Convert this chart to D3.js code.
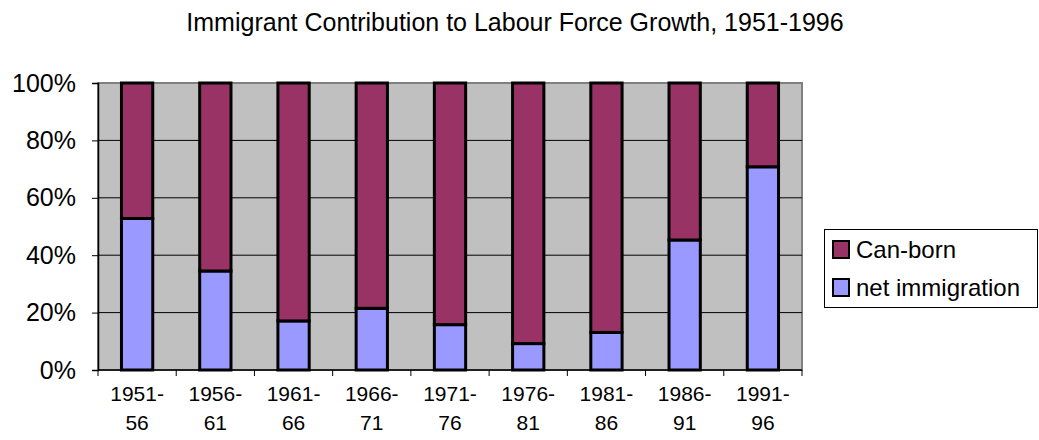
<!DOCTYPE html>
<html>
<head>
<meta charset="utf-8">
<title>Immigrant Contribution to Labour Force Growth</title>
<script src="https://d3js.org/d3.v7.min.js"></script>
<style>
  body { margin: 0; background: #fff; }
  svg text { font-family: Arial, "Liberation Sans", sans-serif; fill: #000; }
</style>
</head>
<body>
<div id="chart"></div>
<script>
// data
var periods = ["1951-56", "1956-61", "1961-66", "1966-71", "1971-76", "1976-81", "1981-86", "1986-91", "1991-96"];
var netImmigration = [52.8, 34.5, 17.1, 21.5, 15.8, 9.2, 13.1, 45.3, 70.8];
var canBorn = netImmigration.map(function(v) { return 100 - v; });
var seriesNames = ["Can-born", "net immigration"];
var seriesColors = ["#993366", "#9999FF"];
var yTicks = [0, 20, 40, 60, 80, 100];

var width = 1039, height = 440;
var plot = { left: 98, right: 802, top: 83, bottom: 370 };

var svg = d3.select("#chart").append("svg")
    .attr("width", width)
    .attr("height", height);

// title
svg.append("text")
    .attr("x", 515)
    .attr("y", 31)
    .attr("text-anchor", "middle")
    .style("font-size", "25px")
    .text("Immigrant Contribution to Labour Force Growth, 1951-1996");

var x = d3.scaleBand()
    .domain(periods)
    .range([plot.left, plot.right])
    .paddingInner(0.6)
    .paddingOuter(0.3);

var xOuter = d3.scaleBand().domain(periods).range([plot.left, plot.right]);

var y = d3.scaleLinear().domain([0, 100]).range([plot.bottom, plot.top]);

// plot background
svg.append("rect")
    .attr("x", plot.left)
    .attr("y", plot.top)
    .attr("width", plot.right - plot.left)
    .attr("height", plot.bottom - plot.top)
    .attr("fill", "#C0C0C0")
    .attr("stroke", "#808080")
    .attr("stroke-width", 2);

// gridlines
svg.append("g").selectAll("line")
    .data(yTicks.slice(1, -1))
    .enter().append("line")
    .attr("x1", plot.left).attr("x2", plot.right)
    .attr("y1", function(d) { return y(d); })
    .attr("y2", function(d) { return y(d); })
    .attr("stroke", "#000")
    .attr("stroke-width", 1);

// stacked bars
var stacked = periods.map(function(p, i) {
    return { period: p, net: netImmigration[i], can: canBorn[i] };
});
var stack = d3.stack().keys(["net", "can"])(stacked);

svg.append("g").selectAll("g")
    .data(stack)
    .enter().append("g")
    .attr("fill", function(d) { return d.key === "net" ? seriesColors[1] : seriesColors[0]; })
    .selectAll("rect")
    .data(function(d) { return d; })
    .enter().append("rect")
    .attr("x", function(d) { return x(d.data.period); })
    .attr("width", x.bandwidth())
    .attr("y", function(d) { return y(d[1]); })
    .attr("height", function(d) { return y(d[0]) - y(d[1]); })
    .attr("stroke", "#000")
    .attr("stroke-width", 3);

// y axis
var yAxis = svg.append("g")
    .attr("transform", "translate(" + plot.left + ",0)")
    .call(d3.axisLeft(y).tickValues(yTicks).tickSize(6).tickPadding(16)
        .tickFormat(function(d) { return d + "%"; }));
yAxis.select(".domain").attr("stroke", "#000").attr("stroke-width", 1.5);
yAxis.selectAll(".tick line").attr("stroke", "#000");
yAxis.selectAll("text")
    .attr("fill", "#000")
    .style("font-size", "25px")
    .attr("font-family", "Arial, 'Liberation Sans', sans-serif");

// x axis
var xAxisG = svg.append("g");
xAxisG.append("line")
    .attr("x1", plot.left).attr("x2", plot.right)
    .attr("y1", plot.bottom).attr("y2", plot.bottom)
    .attr("stroke", "#000").attr("stroke-width", 1.5);
xAxisG.selectAll(".xtick")
    .data(periods.concat(["end"]))
    .enter().append("line")
    .attr("x1", function(d, i) { return plot.left + i * xOuter.step(); })
    .attr("x2", function(d, i) { return plot.left + i * xOuter.step(); })
    .attr("y1", plot.bottom).attr("y2", plot.bottom + 6)
    .attr("stroke", "#000");

var labels = xAxisG.selectAll(".xlabel")
    .data(periods)
    .enter().append("text")
    .attr("text-anchor", "middle")
    .style("font-size", "21px");
labels.append("tspan")
    .attr("x", function(d) { return xOuter(d) + xOuter.bandwidth() / 2; })
    .attr("y", 401)
    .text(function(d) { return d.split("-")[0] + "-"; });
labels.append("tspan")
    .attr("x", function(d) { return xOuter(d) + xOuter.bandwidth() / 2; })
    .attr("y", 430)
    .text(function(d) { return d.split("-")[1]; });

// legend
var legend = svg.append("g");
legend.append("rect")
    .attr("x", 824.5).attr("y", 229.5)
    .attr("width", 213).attr("height", 78)
    .attr("fill", "#fff")
    .attr("stroke", "#000")
    .attr("stroke-width", 1);

var items = legend.selectAll(".item")
    .data(seriesNames)
    .enter().append("g")
    .attr("transform", function(d, i) { return "translate(0," + (i * 38) + ")"; });
items.append("rect")
    .attr("x", 833).attr("y", 241)
    .attr("width", 16).attr("height", 17)
    .attr("fill", function(d, i) { return seriesColors[i]; })
    .attr("stroke", "#000")
    .attr("stroke-width", 2);
items.append("text")
    .attr("x", 856).attr("y", 258)
    .style("font-size", "24px")
    .text(function(d) { return d; });
</script>
</body>
</html>
